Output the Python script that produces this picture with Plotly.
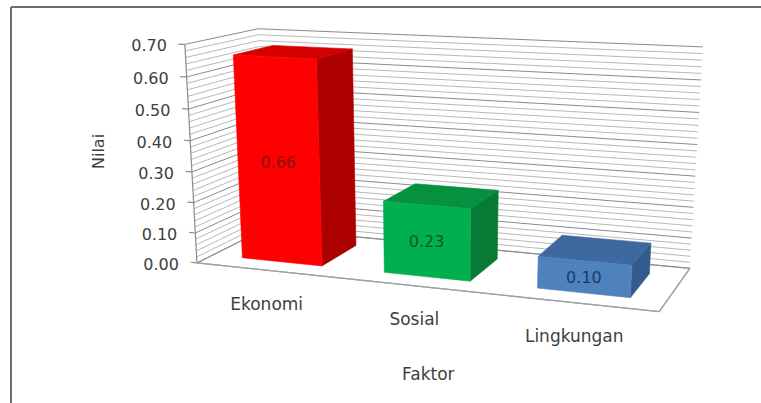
import numpy as np
import plotly.graph_objects as go

# ---------------- data ----------------
categories = ["Ekonomi", "Sosial", "Lingkungan"]
values = [0.66, 0.23, 0.10]
value_labels = ["0.66", "0.23", "0.10"]
tick_values = [0.0, 0.1, 0.2, 0.3, 0.4, 0.5, 0.6, 0.7]
tick_labels = ["0.00", "0.10", "0.20", "0.30", "0.40", "0.50", "0.60", "0.70"]
y_title = "Nilai"
x_title = "Faktor"

# ---------------- style / layout ----------------
W, H = 761, 403
y_max = 0.70
minor_step = 0.02
depth = 1.0
n = len(categories)
gap = 0.215
z_front, z_back = 0.22, 0.78
front_colors = ["#ff0000", "#00b04f", "#4f81bd"]
top_colors = ["#d40000", "#05913f", "#3d68a0"]
side_colors = ["#ac0000", "#077a35", "#345b8e"]
label_colors = ["#8a1010", "#0a5a28", "#1c3a66"]
font_family = "DejaVu Sans"
text_color = "#404040"

# camera calibration: plot-box corners (world) -> page pixels
cal_world = np.array([[0, 0, 0], [0, y_max, 0], [0, y_max, depth], [n, y_max, depth],
                      [n, 0, depth], [n, 0, 0]], float)
cal_px = np.array([[197, 263], [185, 44], [258, 29], [703, 47], [690, 268], [659, 312]], float)


def fit_camera(wp, pp):
    A, b = [], []
    for (X, Y, Z), (u, v) in zip(wp, pp):
        A.append([X, Y, Z, 1, 0, 0, 0, 0, -u * X, -u * Y, -u * Z]); b.append(u)
        A.append([0, 0, 0, 0, X, Y, Z, 1, -v * X, -v * Y, -v * Z]); b.append(v)
    p, *_ = np.linalg.lstsq(np.array(A), np.array(b), rcond=None)
    return np.append(p, 1.0).reshape(3, 4)


P = fit_camera(cal_world, cal_px)


def proj(x, y, z):
    h = P @ np.array([x, y, z, 1.0])
    return h[0] / h[2], h[1] / h[2]


fig = go.Figure()


def poly(pts, fill, line=None, lw=0.6):
    us, vs = zip(*[proj(*p) for p in pts])
    us = list(us) + [us[0]]
    vs = list(vs) + [vs[0]]
    fig.add_trace(go.Scatter(x=us, y=vs, mode="lines", fill="toself", fillcolor=fill,
                             line=dict(color=line or fill, width=lw), hoverinfo="skip",
                             showlegend=False))


def lines(segs, color, lw):
    xs, ys = [], []
    for a, b in segs:
        pa, pb = proj(*a), proj(*b)
        xs += [pa[0], pb[0], None]
        ys += [pa[1], pb[1], None]
    fig.add_trace(go.Scatter(x=xs, y=ys, mode="lines", line=dict(color=color, width=lw),
                             hoverinfo="skip", showlegend=False))


# floor
poly([(0, 0, 0), (n, 0, 0), (n, 0, depth), (0, 0, depth)], "#ffffff", "#a6a6a6", 1.2)

# gridlines on side wall and back wall
grid_vals = np.round(np.arange(0, y_max + 1e-9, minor_step), 4)
minor = [g for g in grid_vals if abs(g * 10 - round(g * 10)) > 1e-6]
major = [g for g in grid_vals if abs(g * 10 - round(g * 10)) <= 1e-6]
lines([((0, g, 0), (0, g, depth)) for g in minor] + [((0, g, depth), (n, g, depth)) for g in minor],
      "#b8b8b8", 1)
lines([((0, g, 0), (0, g, depth)) for g in major] + [((0, g, depth), (n, g, depth)) for g in major],
      "#8a8a8a", 1)

# floor outline again on top
lines([((0, 0, 0), (n, 0, 0)), ((n, 0, 0), (n, 0, depth))], "#a0a0a0", 1.3)

# value axis line + tick marks
lines([((0, 0, 0), (0, y_max, 0))], "#8c8c8c", 1.2)
lines([((0, t, 0), (-0.045, t, 0)) for t in tick_values], "#8c8c8c", 1.2)

# bars
for i, v in enumerate(values):
    x0, x1 = i + gap, i + 1 - gap
    poly([(x1, 0, z_front), (x1, 0, z_back), (x1, v, z_back), (x1, v, z_front)], side_colors[i])
    poly([(x0, v, z_front), (x1, v, z_front), (x1, v, z_back), (x0, v, z_back)], top_colors[i])
    poly([(x0, 0, z_front), (x1, 0, z_front), (x1, v, z_front), (x0, v, z_front)], front_colors[i])
    cx, cy = proj((x0 + x1) / 2, v / 2, z_front)
    fig.add_trace(go.Scatter(x=[cx], y=[cy + 2], mode="text", text=[value_labels[i]],
                             textfont=dict(family=font_family, size=16, color=label_colors[i]),
                             hoverinfo="skip", showlegend=False))

# tick labels
tx, ty = zip(*[proj(0, t, 0) for t in tick_values])
fig.add_trace(go.Scatter(x=[xx - 18 for xx in tx], y=[yy + 3 for yy in ty], mode="text", text=tick_labels,
                         textposition="middle left",
                         textfont=dict(family=font_family, size=16, color=text_color),
                         hoverinfo="skip", showlegend=False))

# category labels
cx, cy = zip(*[proj(i + 0.5, 0, 0) for i in range(n)])
fig.add_trace(go.Scatter(x=list(cx), y=[c + 35 for c in cy], mode="text", text=categories,
                         textfont=dict(family=font_family, size=17, color=text_color),
                         hoverinfo="skip", showlegend=False))

# axis titles
fig.add_annotation(x=98, y=152, xref="x", yref="y", text=y_title, textangle=-90, showarrow=False,
                   font=dict(family=font_family, size=16, color=text_color))
fig.add_annotation(x=428, y=374, xref="x", yref="y", text=x_title, showarrow=False,
                   font=dict(family=font_family, size=17, color=text_color))

# outer frame
fig.add_shape(type="line", x0=11, x1=11, y0=7, y1=H, xref="x", yref="y", line=dict(color="#6e6e6e", width=2))
fig.add_shape(type="line", x0=11, x1=W, y0=7, y1=7, xref="x", yref="y", line=dict(color="#6e6e6e", width=2))

fig.update_layout(width=W, height=H, margin=dict(l=0, r=0, t=0, b=0),
                  paper_bgcolor="white", plot_bgcolor="white", showlegend=False,
                  xaxis=dict(range=[0, W], visible=False, fixedrange=True),
                  yaxis=dict(range=[H, 0], visible=False, fixedrange=True))
fig.write_html("out.html")
